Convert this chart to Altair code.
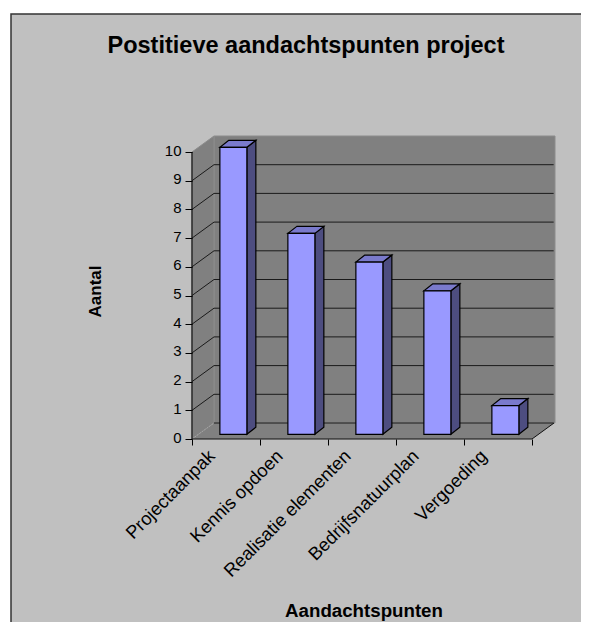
import altair as alt
import pandas as pd

TITLE = "Postitieve aandachtspunten project"
X_TITLE = "Aandachtspunten"
Y_TITLE = "Aantal"
categories = ["Projectaanpak", "Kennis opdoen", "Realisatie elementen", "Bedrijfsnatuurplan", "Vergoeding"]
values = [10, 7, 6, 5, 1]
y_ticks = list(range(0, 11))
x_ticks = list(range(0, 6))

# 3D projection, in data units
WALL_DX, WALL_DY = 0.3235, 0.5575
BAR_DX, BAR_DY = 0.132, 0.244
BAR_X0, BAR_W, BAR_BASE = 0.41, 0.397, 0.164
XMAX, YMAX = 363 / 68, 303 / 28.7
FONT = "Liberation Sans"

xs = alt.Scale(domain=[0, XMAX], nice=False, zero=False)
ys = alt.Scale(domain=[0, YMAX], nice=False, zero=False)

y_axis = alt.Axis(
    values=y_ticks, domain=False, grid=False, tickSize=7, tickColor="black", tickWidth=1,
    labelFont=FONT, labelFontSize=15, labelColor="black", labelPadding=4, labelOffset=-2, zindex=1,
    title=Y_TITLE, titleFont=FONT, titleFontSize=17, titleFontWeight="bold", titleColor="black",
    titleX=-92, titleY=155, titleAlign="center", titleBaseline="alphabetic",
)
x_axis = alt.Axis(
    values=x_ticks, domain=False, grid=False, tickSize=6, tickColor="black", tickWidth=1,
    labels=False, zindex=1,
    title=X_TITLE, titleFont=FONT, titleFontSize=18.7, titleFontWeight="bold", titleColor="black",
    titleX=171.5, titleY=177, titleAlign="center", titleBaseline="alphabetic",
)


def X(f="x"):
    return alt.X(f, type="quantitative", scale=xs, axis=x_axis)


def Y(f="y"):
    return alt.Y(f, type="quantitative", scale=ys, axis=y_axis)


frame = alt.Chart(alt.Data(values=[{}])).mark_rect(
    fill="#C0C0C0", stroke="#333333", strokeWidth=1.5
).encode(x=alt.value(-181), x2=alt.value(400), y=alt.value(-122), y2=alt.value(490))

# Walls and floor
back = alt.Chart(pd.DataFrame({"x": [WALL_DX], "x2": [XMAX], "y": [WALL_DY], "y2": [YMAX]})).mark_rect(
    fill="#808080", stroke="#8C8C8C", strokeWidth=1
).encode(x=X(), x2="x2:Q", y=Y(), y2="y2:Q")

left = alt.Chart(pd.DataFrame({"x": [0, WALL_DX], "y": [0, WALL_DY], "y2": [10, 10 + WALL_DY]})).mark_area(
    fill="#808080", stroke="#8C8C8C", strokeWidth=1
).encode(x=X(), y=Y(), y2="y2:Q")

floor = alt.Chart(pd.DataFrame({"y": [0, WALL_DY], "x": [0, WALL_DX], "x2": [5, 5 + WALL_DX]})).mark_area(
    orient="horizontal", fill="#808080"
).encode(y=Y(), x=X(), x2="x2:Q")

# Gridlines
g_rows = []
for v in y_ticks:
    if v > 0 and v < 10:
        g_rows += [{"k": f"s{v}", "x": 0, "y": v}, {"k": f"s{v}", "x": WALL_DX, "y": v + WALL_DY}]
    if v < 10:
        g_rows += [{"k": f"b{v}", "x": WALL_DX, "y": v + WALL_DY}, {"k": f"b{v}", "x": XMAX - 0.02, "y": v + WALL_DY}]
grid = alt.Chart(pd.DataFrame(g_rows)).mark_line(color="#1A1A1A", strokeWidth=1).encode(
    x=X(), y=Y(), detail="k:N"
)
zero_diag = alt.Chart(pd.DataFrame({"x": [0, WALL_DX], "y": [0, WALL_DY]})).mark_line(
    color="#A6A6A6", strokeWidth=1, strokeDash=[2, 1]
).encode(x=X(), y=Y())
floor_edge = alt.Chart(pd.DataFrame({"x": [5, 5 + WALL_DX], "y": [0, WALL_DY]})).mark_line(
    color="#111111", strokeWidth=1
).encode(x=X(), y=Y())

# Bars
front_rows, top_rows, side_rows = [], [], []
for i, (c, v) in enumerate(zip(categories, values)):
    x0 = i + BAR_X0
    x1 = x0 + BAR_W
    b = BAR_BASE
    t = BAR_BASE + v
    front_rows.append({"c": c, "x": x0, "x2": x1, "y": b, "y2": t})
    top_rows += [
        {"c": c, "y": t, "x": x0, "x2": x1},
        {"c": c, "y": t + BAR_DY, "x": x0 + BAR_DX, "x2": x1 + BAR_DX},
    ]
    side_rows += [
        {"c": c, "x": x1, "y": b, "y2": t},
        {"c": c, "x": x1 + BAR_DX, "y": b + BAR_DY, "y2": t + BAR_DY},
    ]

side = alt.Chart(pd.DataFrame(side_rows)).mark_area(
    fill="#4D4D80", stroke="black", strokeWidth=1.2
).encode(x=X(), y=Y(), y2="y2:Q", detail="c:N")
top = alt.Chart(pd.DataFrame(top_rows)).mark_area(
    orient="horizontal", fill="#7A7ACC", stroke="black", strokeWidth=1.2
).encode(y=Y(), x=X(), x2="x2:Q", detail="c:N")
front = alt.Chart(pd.DataFrame(front_rows)).mark_rect(
    fill="#9999FF", stroke="black", strokeWidth=1.2
).encode(x=X(), x2="x2:Q", y=Y(), y2="y2:Q")

# Axis lines
axis_rows = pd.DataFrame({"x": [0, 0, 5], "y": [10, 0, 0]})
axes = alt.Chart(axis_rows).mark_line(color="#111111", strokeWidth=1.2).encode(x=X(), y=Y())

labels = alt.Chart(pd.DataFrame({"c": categories, "x": [i + 0.06 for i in range(len(categories))], "y": [0.05] * len(categories)})).mark_text(
    angle=315, align="right", baseline="middle", font=FONT, fontSize=18.3, color="black", dy=23
).encode(x=X(), y=Y(), text="c:N")

chart = alt.layer(
    frame, back, left, floor, grid, zero_diag, floor_edge, side, top, front, axes, labels
).properties(
    width=363,
    height=303,
    padding={"left": 184, "top": 128, "right": 26, "bottom": 183},
    autosize=alt.AutoSizeParams(type="none"),
    background="white",
    title=alt.TitleParams(
        TITLE, font=FONT, fontSize=23.5, fontWeight="bold", color="black",
        anchor="middle", frame="group", dx=-67.5, offset=0, dy=44,
    ),
).configure_view(stroke=None)

chart.save("out.html", embed_options={"renderer": "svg", "actions": False})
